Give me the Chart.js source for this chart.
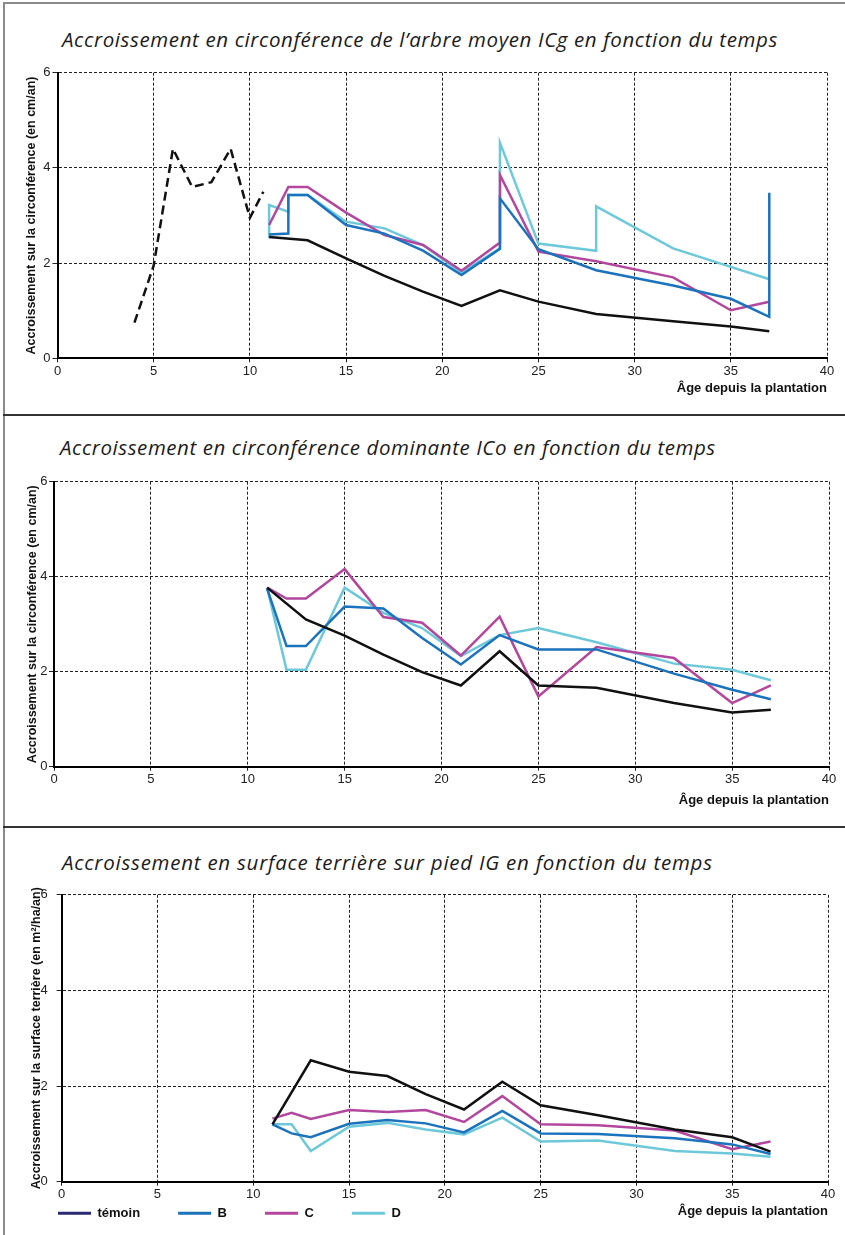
<!DOCTYPE html>
<html lang="fr">
<head>
<meta charset="utf-8">
<title>Accroissements en fonction du temps</title>
<script src="https://cdn.jsdelivr.net/npm/chart.js@4.4.1/dist/chart.umd.min.js"></script>
<style>
html,body{margin:0;padding:0;background:#fff}
body{width:845px;height:1235px;overflow:hidden;position:relative;font-family:"Liberation Sans",Arial,sans-serif}
.rule{position:absolute;left:3px;width:842px}
.titre{position:absolute;left:62px;font-family:"Open Sans",sans-serif;font-style:italic;font-size:20.5px;line-height:24px;color:#1c1c1c;white-space:nowrap}
canvas{position:absolute;left:0}
</style>
</head>
<body>
<div style="position:absolute;left:3px;top:2px;width:2px;height:1233px;background:#8a8a8a"></div>
<div class="rule" style="top:2px;height:2px;background:#8a8a8a"></div>
<div class="rule" style="top:414px;height:2px;background:#333"></div>
<div class="rule" style="top:826px;height:2px;background:#333"></div>

<div class="titre" data-w="716" style="top:27px">Accroissement en circonférence de l’arbre moyen ICg en fonction du temps</div>
<div class="titre" data-w="656" style="top:435px;left:60px">Accroissement en circonférence dominante ICo en fonction du temps</div>
<div class="titre" data-w="651" style="top:850px">Accroissement en surface terrière sur pied IG en fonction du temps</div>

<canvas id="c1" width="845" height="345" style="top:58px"></canvas>
<canvas id="c2" width="845" height="350" style="top:466px"></canvas>
<canvas id="c3" width="845" height="380" style="top:878px"></canvas>

<script>
// ticks
const AGE_TICKS=[0,5,10,15,20,25,30,35,40];
const VAL_TICKS=[0,2,4,6];
const SERIES=['témoin','B','C','D'];

// ages (années depuis la plantation)
const AGE_TEMOIN=[11,13,15,17,19,21,23,25,28,32,35,37];
const AGE_TRAIT=[11,12,13,15,17,19,21,23,25,28,32,35,37];

// ICg - arbre moyen (cm/an)
const ICG_AGE_AVANT=[4,5,6,7,8,9,10,10.7];
const ICG_AVANT=[0.75,1.95,4.4,3.6,3.7,4.4,2.95,3.5];
const ICG_TEMOIN=[2.55,2.48,2.1,1.73,1.4,1.1,1.43,1.19,0.93,0.78,0.67,0.57];
const ICG_AGE_B=[11,12,12,13,15,17,19,21,23,23,25,28,32,35,37,37];
const ICG_B=[2.6,2.62,3.43,3.43,2.8,2.62,2.26,1.75,2.3,3.36,2.29,1.85,1.53,1.25,0.87,3.48];
const ICG_AGE_C=[11,12,13,15,17,19,21,23,23,25,28,32,35,37];
const ICG_C=[2.8,3.6,3.6,3.06,2.59,2.38,1.84,2.43,3.85,2.24,2.04,1.7,1.01,1.19];
const ICG_AGE_D=[11,11,12,12,13,15,17,19,21,23,23,25,28,28,32,35,37];
const ICG_D=[2.52,3.22,3.08,3.43,3.43,2.87,2.73,2.38,1.8,2.31,4.53,2.41,2.26,3.19,2.31,1.92,1.66];

// ICo - circonférence dominante (cm/an)
const ICO_TEMOIN=[3.77,3.1,2.76,2.36,1.99,1.71,2.43,1.71,1.66,1.34,1.14,1.2];
const ICO_B=[3.75,2.54,2.54,3.37,3.33,2.71,2.15,2.77,2.47,2.47,1.96,1.62,1.42];
const ICO_C=[3.77,3.54,3.54,4.16,3.15,3.03,2.34,3.16,1.48,2.52,2.29,1.34,1.71];
const ICO_D=[3.77,2.04,2.04,3.77,3.24,2.92,2.33,2.77,2.92,2.62,2.17,2.04,1.82];

// IG - surface terrière (m²/ha/an)
const IG_TEMOIN=[1.2,2.54,2.3,2.21,1.83,1.51,2.09,1.6,1.39,1.09,0.93,0.63];
const IG_B=[1.2,1.01,0.93,1.21,1.29,1.22,1.03,1.48,1.01,1.0,0.91,0.78,0.58];
const IG_C=[1.32,1.44,1.31,1.5,1.46,1.5,1.25,1.79,1.2,1.18,1.07,0.68,0.84];
const IG_D=[1.2,1.2,0.64,1.15,1.23,1.09,0.99,1.34,0.84,0.86,0.64,0.59,0.52];

const COLORS={'témoin':'#111111','B':'#1b72bd','C':'#b3479e','D':'#6dc9da'};
const LEGEND_COLORS={'témoin':'#2a2a72','B':'#1b72bd','C':'#b3479e','D':'#6dc9da'};

// stretch the italic titles to the width they have in the print
document.querySelectorAll('.titre').forEach(el=>{
  const n=el.textContent.length;
  const w=el.getBoundingClientRect().width;
  el.style.letterSpacing=((+el.dataset.w-w)/n).toFixed(2)+'px';
});

Chart.defaults.font.family='"Liberation Sans", Arial, sans-serif';
Chart.defaults.color='#1e1e1e';

function pts(xs,ys){return xs.map((x,i)=>({x,y:ys[i]}))}
function line(name,xs,ys,extra){
  return Object.assign({label:name,data:pts(xs,ys),borderColor:COLORS[name],backgroundColor:COLORS[name],
    borderWidth:2.5,pointRadius:0,tension:0,fill:false},extra||{});
}

// keeps the legend on the same row as the x title
const legendRow={id:'legendRow',afterLayout(chart){
  const L=chart.legend; if(!L||!L.options.display) return;
  L.top=chart.scales.x.top+31.5-L.options.labels.padding-6.5;
}};

function makeChart(id,box,datasets,yTitle,legend){
  const H=document.getElementById(id).height;
  const padLeft=20, legH=legend?16:0;
  return new Chart(document.getElementById(id),{
    type:'line',
    data:{datasets},
    plugins:[legendRow],
    options:{
      responsive:false, animation:false, events:[],
      layout:{padding:{left:padLeft,right:845-box.r,top:box.t-box.top,bottom:H-(box.b-box.top)-box.xH-legH}},
      plugins:{
        tooltip:{enabled:false},
        legend:{display:!!legend,position:'bottom',align:'start',maxHeight:16,
          labels:{boxWidth:33,boxHeight:3,padding:38,color:'#111',font:{size:13,weight:'bold'},
            generateLabels:()=>SERIES.map((s,i)=>({text:s,fillStyle:LEGEND_COLORS[s],strokeStyle:LEGEND_COLORS[s],lineWidth:0,hidden:false,datasetIndex:i,fontColor:'#111'}))}}
      },
      scales:{
        x:{type:'linear',min:0,max:40,
          afterBuildTicks:s=>{s.ticks=AGE_TICKS.map(v=>({value:v}))},
          afterFit:s=>{s.height=box.xH},
          ticks:{font:{size:13},color:'#222',padding:1,maxRotation:0},
          grid:{color:'#222',lineWidth:1,tickLength:4,tickColor:'#222'},
          border:{color:'#000',width:2,dash:[3,2]},
          title:{display:true,text:'Âge depuis la plantation',align:'end',color:'#111',font:{size:13,weight:'bold'},padding:{top:0,bottom:0}}
        },
        y:{min:0,max:6,
          afterBuildTicks:s=>{s.ticks=VAL_TICKS.map(v=>({value:v}))},
          afterFit:s=>{s.width=box.l-padLeft},
          ticks:{font:{size:13},color:'#222',padding:box.tp},
          grid:{color:'#222',lineWidth:1,tickLength:5,tickColor:'#222'},
          border:{color:'#000',width:2,dash:[3,2]},
          title:{display:true,text:yTitle,color:'#111',font:{size:12.5,weight:'bold'},padding:{top:box.yt-padLeft-7.5,bottom:0}}
        }
      }
    }
  });
}

makeChart('c1',{top:58,l:57.5,r:827,t:72.7,b:358.3,xH:38,tp:2,yt:32},[
  line('témoin',AGE_TEMOIN,ICG_TEMOIN),
  line('B',ICG_AGE_B,ICG_B),
  line('C',ICG_AGE_C,ICG_C),
  line('D',ICG_AGE_D,ICG_D),
  line('témoin',ICG_AGE_AVANT,ICG_AVANT,{borderDash:[9,5]})
],'Accroissement sur la circonférence (en cm/an)',false);

makeChart('c2',{top:466,l:54,r:829,t:481.7,b:766.7,xH:42,tp:1.5,yt:32.5},[
  line('témoin',AGE_TEMOIN,ICO_TEMOIN),
  line('B',AGE_TRAIT,ICO_B),
  line('C',AGE_TRAIT,ICO_C),
  line('D',AGE_TRAIT,ICO_D)
],'Accroissement sur la circonférence (en cm/an)',false);

makeChart('c3',{top:878,l:61.7,r:828,t:894.3,b:1181.7,xH:38,tp:9,yt:37},[
  line('témoin',AGE_TEMOIN,IG_TEMOIN),
  line('B',AGE_TRAIT,IG_B),
  line('C',AGE_TRAIT,IG_C),
  line('D',AGE_TRAIT,IG_D)
],'Accroissement sur la surface terrière (en m²/ha/an)',true);
</script>
</body>
</html>
